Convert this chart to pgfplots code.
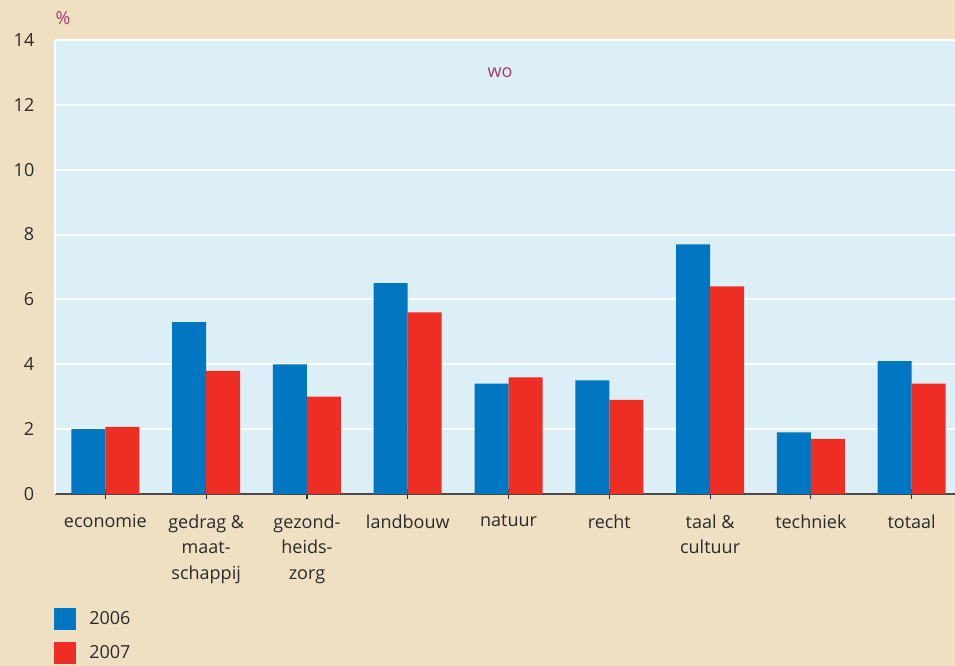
\documentclass[border=0pt]{standalone}
\usepackage{fontspec}
\setmainfont{Open Sans}
\usepackage{pgfplots}
\pgfplotsset{compat=1.18}
\definecolor{bg}{HTML}{EFE0C3}
\definecolor{plotbg}{HTML}{DCEFF6}
\definecolor{cblue}{HTML}{0077C0}
\definecolor{cred}{HTML}{EE2E24}
\definecolor{mag}{HTML}{A63A6E}
\definecolor{txt}{HTML}{2A2A2A}
\begin{document}
\begin{tikzpicture}
\path[use as bounding box, fill=bg] (0,0) rectangle (716.25pt,499.5pt);
\begin{axis}[
  at={(41.25pt,129pt)}, anchor=south west,
  scale only axis, width=675pt, height=340.5pt,
  ybar=0pt, bar width=25.5pt,
  xmin=-0.5, xmax=8.43, ymin=0, ymax=14,
  xtick={0,...,8},
  xticklabels={economie,{gedrag \&\\maat-\\schappij},{gezond-\\heids-\\zorg},landbouw,natuur,recht,{taal \&\\cultuur},techniek,totaal},
  ytick={0,2,...,14},
  /pgf/number format/assume math mode=true,
  axis background/.style={fill=plotbg},
  ymajorgrids, major grid style={white, line width=1.5pt},
  axis x line*=bottom, axis y line*=left,
  x axis line style={txt!85, line width=0.9pt, -},
  y axis line style={white, line width=1.5pt, -},
  tick align=center,
  xtick style={txt, line width=0.9pt},
  major tick length=8pt,
  ytick style={draw=none},
  tick label style={font=\fontsize{13.5}{19}\selectfont, text=txt},
  xticklabel style={align=center, anchor=north, yshift=-8pt},
  yticklabel style={anchor=east, xshift=-8pt},
  legend style={at={(axis description cs:0,-0.2445)}, anchor=north west, draw=none, fill=none,
    font=\fontsize{13.5}{15}\selectfont, text=txt, row sep=9pt, xshift=-4pt,
    /tikz/every even column/.append style={column sep=6pt}},
  legend cell align=left,
  legend image code/.code={\fill[#1] (0pt,-8.25pt) rectangle (16.5pt,8.25pt);},
  legend style={/tikz/every odd column/.append style={column sep=8pt}},
]
\addplot[fill=cblue, draw=none] coordinates {(0,2.0) (1,5.3) (2,4.0) (3,6.5) (4,3.4) (5,3.5) (6,7.7) (7,1.9) (8,4.1)};
\addplot[fill=cred, draw=none] coordinates {(0,2.07) (1,3.8) (2,3.0) (3,5.6) (4,3.6) (5,2.9) (6,6.4) (7,1.7) (8,3.4)};
\legend{2006,2007}
\end{axis}
\node[mag, font=\fontsize{13.5}{15}\selectfont] at (47.25pt,486pt) {\%};
\node[mag, font=\fontsize{13.5}{15}\selectfont] at (375pt,444.75pt) {wo};
\end{tikzpicture}
\end{document}
